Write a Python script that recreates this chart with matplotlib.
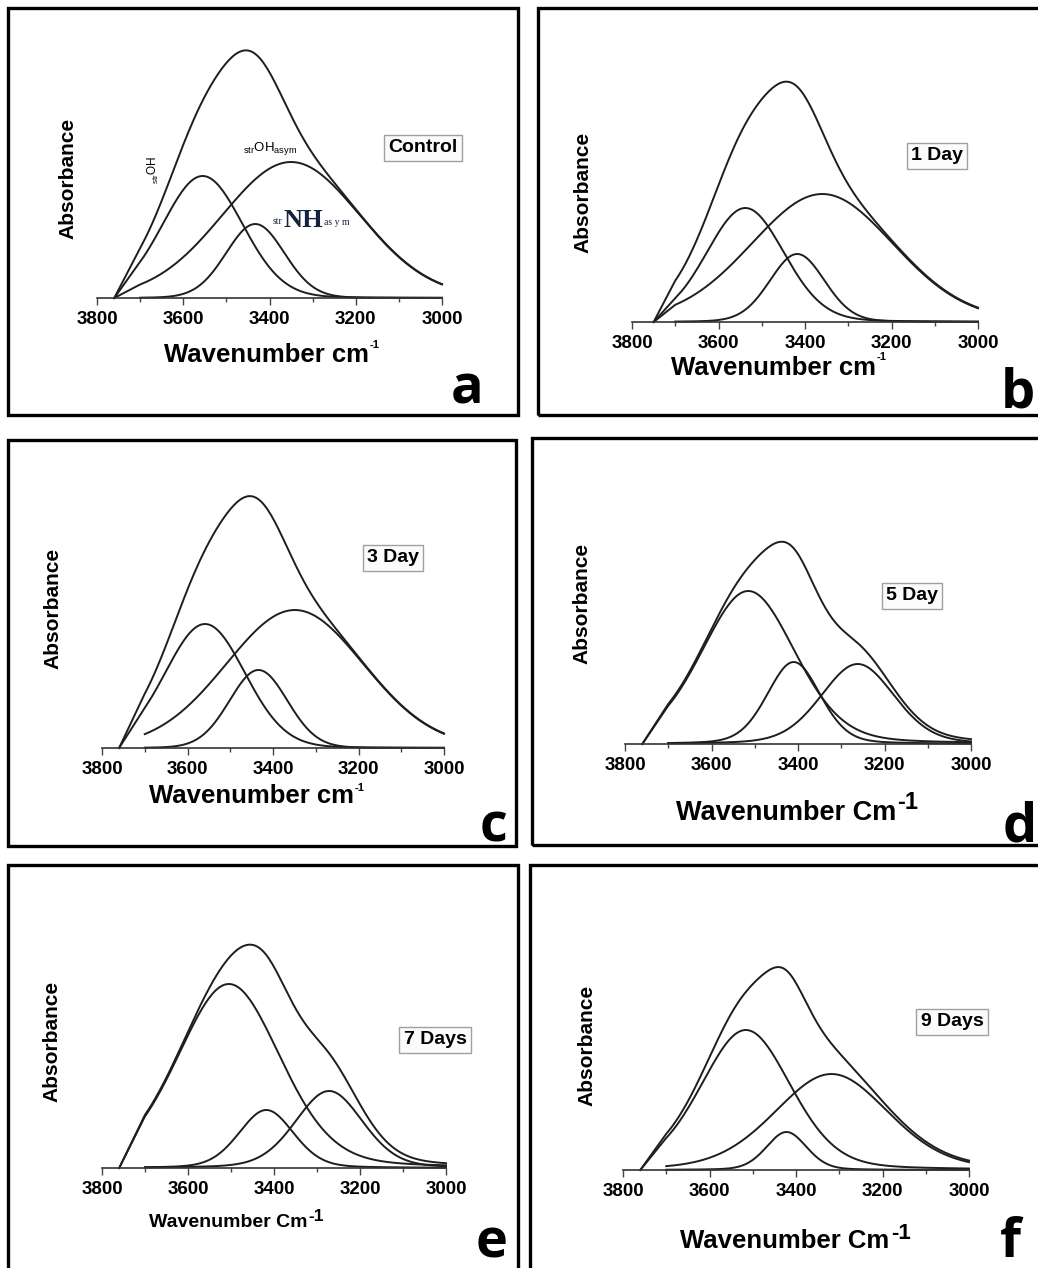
import numpy as np
import matplotlib
matplotlib.use('Agg')
import matplotlib.pyplot as plt
from matplotlib.patches import Rectangle

plt.rcParams['font.family'] = ['Liberation Sans', 'DejaVu Sans']
plt.rcParams['mathtext.fontset'] = 'custom'
plt.rcParams['mathtext.rm'] = 'Liberation Sans'
plt.rcParams['mathtext.bf'] = 'Liberation Sans:bold'
plt.rcParams['mathtext.it'] = 'Liberation Sans:italic'

# fitted bands per panel: centre (cm-1), peak height (a.u.), FWHM (cm-1), first wavenumber drawn
# a, b, c, f: strOH, strOH asym, strNH asym   |   d, e: strOH, strNH asym, low band
a_center = [3555, 3350, 3433]
a_height = [122, 136, 74]
a_fwhm = [218, 378, 160]
a_start = [3760, 3760, 3700]

b_center = [3538, 3360, 3418]
b_height = [114, 128, 68]
b_fwhm = [212, 390, 150]
b_start = [3750, 3750, 3700]

c_center = [3559, 3349, 3434]
c_height = [124, 138, 78]
c_fwhm = [220, 380, 160]
c_start = [3760, 3700, 3700]

d_center = [3515, 3410, 3262]
d_height = [153, 82, 80]
d_fwhm = [255, 145, 200]
d_start = [3760, 3700, 3700]

e_center = [3505, 3418, 3272]
e_height = [184, 58, 77]
e_fwhm = [282, 150, 185]
e_start = [3760, 3700, 3700]

f_center = [3516, 3318, 3422]
f_height = [140, 96, 38]
f_fwhm = [245, 310, 110]
f_start = [3760, 3700, 3700]

# Lorentzian fraction of the pseudo-Voigt band shape in each panel
lorentz_frac = [0.05, 0.1, 0.05, 0.2, 0.2, 0.2]
total_start = [3760, 3750, 3760, 3760, 3760, 3760]
panel_tags = ['Control', '1 Day', '3 Day', '5 Day', '7 Days', '9 Days']
panel_letters = ['a', 'b', 'c', 'd', 'e', 'f']
x_labels = ['Wavenumber cm'] * 3 + ['Wavenumber Cm'] * 3
major_ticks = [3800, 3600, 3400, 3200, 3000]
minor_ticks = [3700, 3500, 3300, 3100]

centers = [a_center, b_center, c_center, d_center, e_center, f_center]
heights = [a_height, b_height, c_height, d_height, e_height, f_height]
fwhms = [a_fwhm, b_fwhm, c_fwhm, d_fwhm, e_fwhm, f_fwhm]
starts = [a_start, b_start, c_start, d_start, e_start, f_start]

# layout in pixels of the 1038x1268 canvas
W, H = 1038, 1268
frames = [(8, 8, 518, 415), (538, 8, 1045, 415), (8, 440, 516, 846),
          (532, 438, 1045, 845), (8, 865, 518, 1280), (530, 865, 1045, 1280)]
axes_px = [(97, 442, 298, 30), (632, 978, 322, 30), (102, 444, 748, 460),
           (625, 971, 744, 460), (102, 446, 1168, 885), (623, 969, 1170, 885)]
# centre x, baseline y, font size, superscript size, superscript raise
xlab_pos = [(271, 362, 18.5, 8, 14), (778, 375, 18.5, 8, 15), (256, 803, 18.5, 8, 12),
            (797, 820, 19.5, 17, 11), (236, 1227, 14, 12.5, 6), (795, 1248, 18.5, 16, 9)]
ylab_pos = [(68, 178), (583, 192), (53, 608), (582, 603), (52, 1041), (587, 1045)]
letter_pos = [(467, 403), (1018, 407), (493, 842), (1020, 842), (492, 1257), (1010, 1257)]
tag_pos = [(423, 148), (937, 156), (393, 558), (912, 596), (435, 1040), (952, 1022)]

fig = plt.figure(figsize=(W / 100, H / 100), dpi=100)
fig.patch.set_facecolor('white')
renderer = fig.canvas.get_renderer()


def fx(x):
    return x / W


def fy(y):
    return 1 - y / H


def band(x, c, h, w, eta):
    hw = w / 2.0
    g = np.exp(-np.log(2) * ((x - c) / hw) ** 2)
    lor = 1.0 / (1.0 + ((x - c) / hw) ** 2)
    return h * ((1 - eta) * g + eta * lor)


grid = np.arange(3700, 2999, -4.0)
line_kw = dict(color='#1e1e1e', lw=1.4, clip_on=False)

for i in range(6):
    x0, y0, x1, y1 = frames[i]
    fig.add_artist(Rectangle((fx(x0), fy(y1)), fx(x1 - x0), (y1 - y0) / H,
                             transform=fig.transFigure, fill=False,
                             edgecolor='black', lw=2.4))

    l, r, base, top = axes_px[i]
    ax = fig.add_axes([fx(l), fy(base), fx(r - l), (base - top) / H])
    ax.patch.set_alpha(0)

    total = np.zeros_like(grid)
    for c, h, w, s in zip(centers[i], heights[i], fwhms[i], starts[i]):
        y = band(grid, c, h, w, lorentz_frac[i])
        total += y
        if s > 3700:
            ax.plot(np.r_[s, grid], np.r_[0, y], **line_kw)
        else:
            ax.plot(grid, y, **line_kw)
    ax.plot(np.r_[total_start[i], grid], np.r_[0, total], **line_kw)

    ax.set_xlim(3800, 3000)
    ax.set_ylim(0, base - top)
    ax.set_xticks(major_ticks)
    ax.set_xticks(minor_ticks, minor=True)
    ax.set_yticks([])
    for side in ['top', 'left', 'right']:
        ax.spines[side].set_visible(False)
    ax.spines['bottom'].set_color('#333333')
    ax.spines['bottom'].set_linewidth(1.2)
    ax.tick_params(axis='x', which='major', direction='out', length=5, width=1,
                   color='#444444', labelsize=13.5, pad=4)
    ax.tick_params(axis='x', which='minor', direction='out', length=3, width=1,
                   color='#444444')
    for lab in ax.get_xticklabels():
        lab.set_fontweight('bold')

    # x label with its superscript
    xl, yl, fs, sfs, rise = xlab_pos[i]
    t = fig.text(0, 0, x_labels[i], ha='left', va='baseline', fontsize=fs,
                 fontweight='bold')
    sup = fig.text(0, 0, '-1', ha='left', va='baseline', fontsize=sfs,
                   fontweight='bold')
    wm = t.get_window_extent(renderer).width
    ws = sup.get_window_extent(renderer).width
    left = xl - (wm + ws) / 2
    t.set_position((fx(left), fy(yl)))
    sup.set_position((fx(left + wm + 1), fy(yl - rise)))

    fig.text(fx(ylab_pos[i][0]), fy(ylab_pos[i][1]), 'Absorbance', rotation=90,
             ha='center', va='center', fontsize=15, fontweight='bold')
    fig.text(fx(letter_pos[i][0]), fy(letter_pos[i][1]), panel_letters[i],
             ha='center', va='baseline', fontsize=39, fontweight='bold',
             family=['Open Sans', 'DejaVu Sans'])
    fig.text(fx(tag_pos[i][0]), fy(tag_pos[i][1]), panel_tags[i], ha='center',
             va='center', fontsize=14, fontweight='bold',
             bbox=dict(boxstyle='square,pad=0.22', facecolor='#fbfbfb',
                       edgecolor='#a0a0a0', linewidth=1))

# band assignments on the control panel
fig.text(fx(153), fy(170), '${}_{\\mathrm{str}}$OH', rotation=90, ha='center',
         va='center', fontsize=8.5)
fig.text(fx(270), fy(148), '${}_{\\mathrm{str}}$OH$_{\\mathrm{asym}}$', ha='center',
         va='center', fontsize=9.5)
navy = '#15233f'
serif = ['Liberation Serif', 'DejaVu Serif']
fig.text(fx(283), fy(227), 'NH', ha='left', va='baseline', fontsize=19,
         fontweight='bold', family=serif, color=navy)
fig.text(fx(282), fy(224), 'str', ha='right', va='baseline', fontsize=7,
         family=serif, color=navy)
fig.text(fx(324), fy(225), 'as y m', ha='left', va='baseline', fontsize=7,
         family=serif, color=navy)

fig.savefig('out.png', dpi=100, facecolor='white')
